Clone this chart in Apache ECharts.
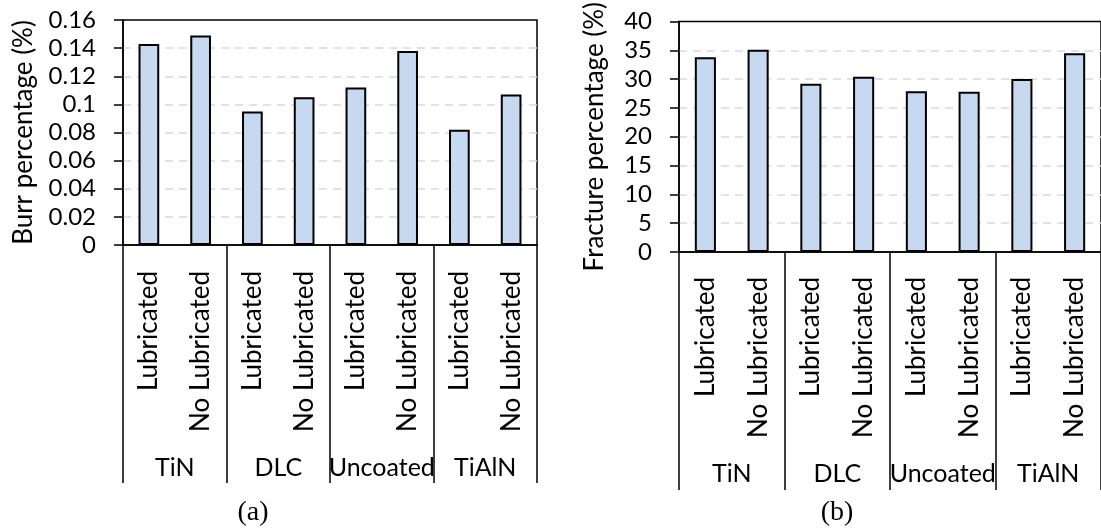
<!DOCTYPE html>
<html>
<head>
<meta charset="utf-8">
<script src="https://cdn.jsdelivr.net/npm/echarts@6/dist/echarts.min.js"></script>
<style>
html,body{margin:0;padding:0;background:#fff;}
#c{width:1101px;height:529px;}
</style>
</head>
<body>
<div id="c"></div>
<script>
const categories = ['Lubricated','No Lubricated','Lubricated','No Lubricated','Lubricated','No Lubricated','Lubricated','No Lubricated'];
const groups = ['TiN','DLC','Uncoated','TiAlN'];
const burrValues = [0.143, 0.149, 0.095, 0.105, 0.112, 0.138, 0.082, 0.107];
const fractureValues = [33.8, 35.1, 29.2, 30.4, 27.9, 27.8, 30.0, 34.5];
const burrTicks = {min: 0, max: 0.16, interval: 0.02};
const fractureTicks = {min: 0, max: 40, interval: 5};
const yNames = ['Burr percentage (%)', 'Fracture percentage (%)'];
const captions = ['(a)', '(b)'];

const FONT = 'Lato';
const BLACK = '#000';

function catAxis(gi, margin) {
  return {
    type: 'category', gridIndex: gi, data: categories, position: 'bottom',
    axisLine: {show: true, lineStyle: {color: BLACK, width: 1.5}},
    axisTick: {show: false},
    axisLabel: {rotate: 90, interval: 0, margin: margin, color: BLACK, fontFamily: FONT, fontSize: 26}
  };
}
function groupAxis(gi, len, margin) {
  return {
    type: 'category', gridIndex: gi, data: groups, position: 'bottom',
    axisLine: {show: false},
    axisTick: {show: true, length: len, interval: 0, lineStyle: {color: BLACK, width: 1.5}},
    axisLabel: {interval: 0, margin: margin, color: BLACK, fontFamily: FONT, fontSize: 25}
  };
}
function valAxis(gi, t, name, gap) {
  return {
    type: 'value', gridIndex: gi, min: t.min, max: t.max, interval: t.interval,
    name: name, nameLocation: 'middle', nameGap: gap,
    nameTextStyle: {color: BLACK, fontFamily: FONT, fontSize: 26},
    axisLine: {show: true, lineStyle: {color: BLACK, width: 1.5}},
    axisTick: {show: true, length: 9, lineStyle: {color: BLACK, width: 1.5}},
    axisLabel: {margin: 27, color: BLACK, fontFamily: FONT, fontSize: 24},
    splitLine: {show: true, showMinLine: false, showMaxLine: false, lineStyle: {color: '#d9d9d9', width: 1.5, type: [8, 6]}}
  };
}
function barSeries(xi, yi, data) {
  return {
    type: 'bar', xAxisIndex: xi, yAxisIndex: yi, data: data, barWidth: '40%',
    itemStyle: {color: '#c6d9f0', borderColor: BLACK, borderWidth: 2},
    silent: true
  };
}

const chart = echarts.init(document.getElementById('c'), null, {renderer: 'canvas'});
chart.setOption({
  animation: false,
  backgroundColor: '#fff',
  textStyle: {fontFamily: FONT},
  grid: [
    {left: 123, top: 20, width: 414, height: 225, show: true, borderColor: BLACK, borderWidth: 1.5, backgroundColor: 'transparent'},
    {left: 679, top: 20, width: 429, height: 232, show: true, borderColor: BLACK, borderWidth: 1.5, backgroundColor: 'transparent'}
  ],
  xAxis: [
    catAxis(0, 26), groupAxis(0, 238, 210),
    catAxis(1, 25), groupAxis(1, 238, 209)
  ],
  yAxis: [
    valAxis(0, burrTicks, yNames[0], 86),
    valAxis(1, fractureTicks, yNames[1], 71)
  ],
  series: [
    barSeries(0, 0, burrValues),
    barSeries(2, 1, fractureValues)
  ],
  graphic: [
    {type: 'text', x: 253, y: 513, style: {text: captions[0], font: '28px "Liberation Serif"', fill: BLACK, align: 'center', verticalAlign: 'middle'}},
    {type: 'text', x: 837, y: 513, style: {text: captions[1], font: '28px "Liberation Serif"', fill: BLACK, align: 'center', verticalAlign: 'middle'}}
  ]
});
</script>
</body>
</html>
